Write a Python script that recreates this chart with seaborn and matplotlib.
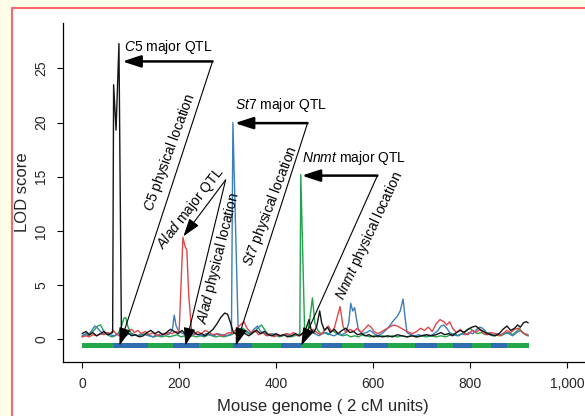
import matplotlib
matplotlib.use('Agg')
import matplotlib.pyplot as plt
from matplotlib.patches import Rectangle
import seaborn as sns

# LOD traces (x in 2 cM units, y = LOD)
c5_lod = [(0,0.5),(8,0.7),(15,0.4),(22,0.6),(30,0.3),(38,0.5),(45,0.7),(52,0.4),(58,0.5),(63,0.6),
          (65,23.5),(70,19.3),(76,27.3),(81,0.9),(86,0.4),(94,0.6),(102,0.3),(110,0.4),(118,0.2),
          (126,0.3),(134,0.6),(142,0.8),(150,0.5),(158,0.7),(166,0.4),(174,0.6),(182,0.9),(190,0.7),
          (198,0.5),(206,0.8),(214,0.4),(222,0.5),(230,0.7),(238,0.4),(246,0.5),(254,0.3),(262,0.6),
          (270,0.9),(278,1.4),(286,2.0),(294,2.4),(300,2.3),(306,1.5),(312,0.6),(320,0.4),(328,0.7),
          (336,0.5),(344,0.3),(352,0.6),(360,0.8),(368,0.5),(376,0.7),(384,0.4),(392,0.3),(400,0.5),
          (408,0.3),(416,0.4),(424,0.2),(432,0.3),(440,0.5),(448,0.3),(456,0.6),(462,1.0),(468,1.8),
          (472,0.9),(478,0.6),(484,1.2),(490,2.6),(494,1.5),(500,0.8),(506,1.1),(512,0.6),(520,0.9),
          (528,0.5),(536,0.8),(544,1.0),(552,0.6),(560,0.7),(568,0.4),(576,0.5),(584,0.3),(592,0.4),
          (600,0.2),(610,0.3),(620,0.2),(630,0.3),(640,0.2),(650,0.4),(660,0.3),(670,0.2),(680,0.3),
          (690,0.2),(700,0.3),(710,0.4),(720,0.3),(730,0.4),(740,0.6),(748,0.4),(756,0.5),(764,0.3),
          (772,0.6),(780,0.8),(788,0.6),(796,0.9),(804,1.1),(812,1.2),(820,0.9),(828,0.7),(836,0.5),
          (844,0.4),(852,0.3),(860,0.5),(868,0.9),(876,1.2),(884,0.8),(892,1.0),(898,1.3),(904,1.1),
          (910,1.5),(916,1.6),(920,1.5)]

alad_lod = [(0,0.2),(8,0.3),(15,0.2),(22,0.4),(30,0.3),(38,0.5),(45,0.4),(52,0.6),(58,0.5),(64,0.8),
            (70,0.5),(76,0.3),(82,0.6),(88,0.4),(95,0.7),(102,0.9),(108,0.6),(115,0.8),(122,0.5),
            (130,0.7),(138,0.4),(146,0.6),(154,0.3),(162,0.5),(170,0.4),(178,0.6),(186,0.5),(194,0.7),
            (200,0.6),(204,5.0),(208,9.4),(212,8.6),(216,8.2),(220,4.0),(226,0.6),(232,0.4),(238,0.7),
            (246,0.5),(254,0.8),(262,0.6),(270,0.4),(278,0.5),(286,0.3),(294,0.4),(302,0.6),(310,0.5),
            (318,0.9),(326,1.3),(334,1.6),(340,1.0),(348,0.6),(356,0.8),(364,0.4),(372,0.6),(380,0.3),
            (388,0.5),(396,0.2),(404,0.4),(412,0.3),(420,0.5),(428,0.4),(436,0.6),(444,0.3),(452,0.4),
            (460,0.7),(468,0.5),(476,0.9),(484,0.6),(492,0.4),(500,0.8),(508,1.2),(514,0.7),(520,1.0),
            (526,2.0),(532,3.0),(538,1.2),(544,0.6),(552,0.9),(560,0.7),(568,1.0),(576,0.6),(584,1.0),
            (590,1.3),(596,1.1),(602,0.7),(610,0.5),(618,0.7),(626,0.9),(634,1.1),(642,1.3),(650,1.2),
            (658,1.0),(666,0.8),(674,0.6),(682,0.5),(690,0.7),(698,1.0),(706,0.8),(714,1.1),(722,0.7),
            (730,1.4),(738,1.8),(746,1.6),(752,1.3),(758,1.6),(764,1.0),(772,0.6),(780,0.9),(788,0.5),
            (796,0.4),(804,0.8),(812,0.6),(820,0.9),(828,0.5),(836,0.4),(844,0.6),(852,0.5),(860,0.3),
            (868,0.5),(876,0.8),(884,0.6),(892,0.9),(900,1.0),(906,0.7),(912,0.5),(920,0.3)]

st7_lod = [(0,0.3),(8,0.5),(14,0.4),(20,0.8),(26,1.2),(32,1.0),(38,0.7),(44,0.5),(50,0.6),(58,0.4),
           (66,0.3),(74,0.5),(82,0.4),(90,0.3),(98,0.5),(106,0.4),(114,0.3),(122,0.5),(130,0.4),
           (138,0.3),(146,0.2),(154,0.4),(162,0.3),(170,0.5),(178,0.4),(186,0.8),(190,2.2),(194,1.2),
           (200,0.7),(208,0.5),(216,0.4),(224,0.3),(232,0.5),(240,0.4),(248,0.3),(256,0.5),(264,0.4),
           (272,0.3),(280,0.5),(288,0.4),(296,0.3),(304,0.4),(308,0.6),(311,20.0),(322,0.6),(330,0.4),
           (338,0.8),(346,0.5),(354,0.9),(362,1.2),(368,0.7),(376,0.5),(384,0.3),(392,0.5),(400,0.4),
           (408,0.3),(416,0.4),(424,0.5),(432,0.3),(440,0.4),(448,0.3),(456,0.5),(464,0.4),(472,0.6),
           (480,0.5),(488,0.3),(496,0.5),(504,0.6),(512,0.4),(520,0.3),(528,0.5),(536,0.4),(544,0.6),
           (550,1.5),(554,3.3),(558,2.6),(562,2.9),(566,1.8),(570,0.8),(578,0.5),(586,0.6),(594,0.8),
           (602,0.5),(610,0.3),(618,0.5),(626,0.8),(634,1.2),(642,1.7),(650,2.1),(656,2.6),(662,3.7),
           (666,2.0),(670,0.6),(678,0.4),(686,0.3),(694,0.4),(702,0.3),(710,0.4),(718,0.3),(726,0.5),
           (734,0.8),(740,1.2),(746,1.3),(752,1.0),(758,0.6),(766,0.4),(774,0.3),(782,0.5),(790,0.4),
           (798,0.6),(806,0.5),(814,0.9),(820,1.1),(826,1.0),(832,0.7),(840,0.4),(848,0.3),(856,0.5),
           (864,0.4),(872,0.6),(880,0.5),(888,0.3),(896,0.6),(904,0.8),(912,0.5),(920,0.4)]

nnmt_lod = [(0,0.2),(8,0.4),(14,0.3),(20,0.6),(26,0.9),(32,1.2),(38,1.3),(44,0.8),(50,0.5),(56,0.3),
            (62,0.2),(68,0.3),(74,0.5),(80,1.0),(86,1.9),(90,2.0),(94,1.2),(100,0.6),(108,0.4),
            (116,0.3),(124,0.4),(132,0.5),(140,0.3),(148,0.2),(156,0.3),(164,0.2),(172,0.3),(180,0.2),
            (188,0.3),(196,0.4),(204,0.2),(212,0.3),(220,0.2),(228,0.3),(236,0.2),(244,0.3),(252,0.2),
            (260,0.4),(268,0.3),(276,0.2),(284,0.3),(292,0.2),(300,0.3),(308,0.4),(316,0.6),(324,0.9),
            (332,1.0),(340,0.6),(348,0.4),(356,0.7),(364,1.1),(370,1.3),(376,0.9),(382,0.5),(390,0.3),
            (398,0.4),(406,0.2),(414,0.3),(422,0.4),(430,0.2),(438,0.3),(446,0.4),(449,0.5),(451,15.2),
            (459,0.6),(466,0.8),(470,2.0),(475,3.8),(480,1.5),(486,0.8),(492,0.5),(500,0.6),(508,0.4),
            (516,0.8),(522,0.6),(530,0.4),(538,0.3),(546,0.4),(554,0.2),(562,0.3),(570,0.2),(578,0.4),
            (586,0.3),(594,0.2),(602,0.3),(610,0.2),(620,0.3),(630,0.2),(640,0.3),(650,0.2),(660,0.3),
            (670,0.2),(680,0.3),(690,0.2),(700,0.3),(710,0.2),(720,0.3),(730,0.2),(740,0.3),(750,0.2),
            (760,0.4),(768,0.5),(776,0.3),(784,0.5),(792,0.8),(800,1.0),(808,0.7),(816,0.5),(824,0.6),
            (832,0.4),(840,0.6),(848,0.3),(856,0.4),(864,0.3),(872,0.5),(880,0.6),(888,0.4),(896,0.7),
            (902,1.0),(908,0.6),(914,0.4),(920,0.3)]

# chromosome boundaries along the genome axis
chrom_edges = [0, 65, 135, 188, 242, 311, 351, 410, 451, 494, 535, 582, 630, 687, 731, 764, 805, 843, 877, 921]

# annotations: label, text xy, arrow tip at peak, corner of arrows, tip at physical location
qtl_labels = ['C5', 'Alad', 'St7', 'Nnmt']
qtl_peak_tip = [(83, 25.65), (209, 9.5), (315, 19.95), (453, 15.1)]
qtl_corner = [(269, 25.65), (296, 14.7), (465, 19.95), (609, 15.1)]
qtl_phys_tip = [(77, -0.6), (213, -0.6), (317, -0.6), (452, -0.6)]
major_text_xy = [(87, 27.0), (223, 12.1), (315, 21.6), (453, 16.7)]
major_text_rot = [0, 52, 0, 0]
phys_text_xy = [(181, 17.2), (282, 7.5), (388, 12.3), (592, 9.5)]
phys_text_rot = [70, 76, 69, 65]

xticks = [0, 200, 400, 600, 800, 1000]
xtick_labels = ['0', '200', '400', '600', '800', '1,000']
yticks = [0, 5, 10, 15, 20, 25]

sns.set_theme(style='ticks')
plt.rcParams['font.family'] = ['Liberation Sans', 'DejaVu Sans']
plt.rcParams['mathtext.fontset'] = 'custom'
plt.rcParams['mathtext.rm'] = 'Liberation Sans'
plt.rcParams['mathtext.it'] = 'Liberation Sans:italic'

fig = plt.figure(figsize=(5.85, 4.16), dpi=100)
fig.patch.set_facecolor('#fffde8')
frame = Rectangle((12 / 585, -0.1), 1.2, (416 - 7.5) / 416 + 0.1,
                  transform=fig.transFigure, facecolor='white',
                  edgecolor='#f56a6a', lw=1.5, zorder=-10)
fig.add_artist(frame)

ax = fig.add_axes([62.7 / 585, 54 / 416, 543.1 / 585, 339 / 416])
ax.set_facecolor('none')
ax.set_zorder(1)

series = [(nnmt_lod, '#1fa34b'), (st7_lod, '#3b7dbd'), (alad_lod, '#e0474c'), (c5_lod, '#151515')]
for data, col in series:
    xs = [p[0] for p in data]
    ys = [p[1] for p in data]
    sns.lineplot(x=xs, y=ys, color=col, lw=1.0, estimator=None, ax=ax)

seg_colors = ['#22a84a' if i % 2 == 0 else '#2f6db0' for i in range(len(chrom_edges) - 1)]
ax.broken_barh([(chrom_edges[i], chrom_edges[i + 1] - chrom_edges[i]) for i in range(len(chrom_edges) - 1)],
               (-0.84, 0.5), facecolors=seg_colors, edgecolor='none', linewidth=0, zorder=3)

for i, name in enumerate(qtl_labels):
    horiz = qtl_peak_tip[i][1] == qtl_corner[i][1]
    ax.annotate('', xy=qtl_peak_tip[i], xytext=qtl_corner[i],
                arrowprops=dict(arrowstyle='-|>,head_length=0.55,head_width=0.18',
                                mutation_scale=20, color='black',
                                lw=1.8 if horiz else 0.8, shrinkA=0, shrinkB=0), zorder=5)
    ax.annotate('', xy=qtl_phys_tip[i], xytext=qtl_corner[i],
                arrowprops=dict(arrowstyle='-|>,head_length=0.55,head_width=0.18',
                                mutation_scale=20, color='black', lw=0.8,
                                shrinkA=0, shrinkB=0), zorder=5)
    if major_text_rot[i] == 0:
        ax.text(*major_text_xy[i], r'$\mathit{' + name + '}$ major QTL', fontsize=10,
                ha='left', va='center', color='black')
    else:
        ax.text(*major_text_xy[i], r'$\mathit{' + name + '}$ major QTL', fontsize=10,
                ha='center', va='center', rotation=major_text_rot[i],
                rotation_mode='anchor', color='black')
    ax.text(*phys_text_xy[i], r'$\mathit{' + name + '}$ physical location', fontsize=10,
            ha='center', va='center', rotation=phys_text_rot[i],
            rotation_mode='anchor', color='black')

ax.set_xlim(-40, 1080)
ax.set_ylim(-2.12, 29.2)
ax.set_xticks(xticks)
ax.set_xticklabels(xtick_labels)
ax.set_yticks(yticks)
ax.tick_params(axis='both', labelsize=10, length=4.5, width=0.8, pad=6, color='black')
for lab in ax.get_yticklabels():
    lab.set_rotation(90)
    lab.set_va('center')

for s in ['top', 'right']:
    ax.spines[s].set_visible(False)
for s in ['left', 'bottom']:
    ax.spines[s].set_color('black')
    ax.spines[s].set_linewidth(0.9)

ax.set_xlabel('Mouse genome ( 2 cM units)', fontsize=12)
ax.set_ylabel('LOD score', fontsize=12)
ax.xaxis.set_label_coords(0.479, -0.108)
ax.yaxis.set_label_coords(-0.06, 0.5)

fig.savefig('out.png', dpi=100, facecolor=fig.get_facecolor())
